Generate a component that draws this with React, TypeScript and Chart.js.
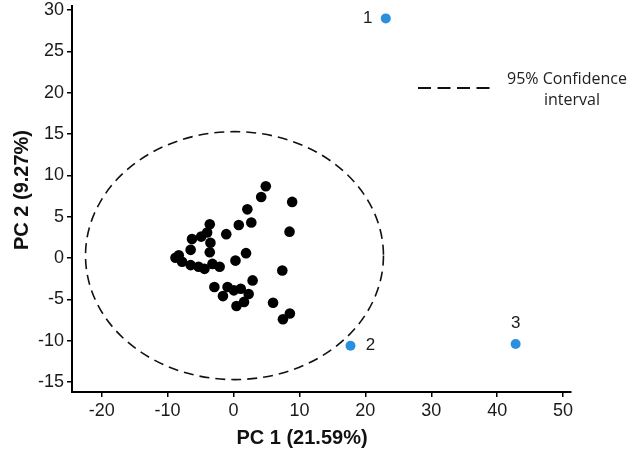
import React, { useEffect, useRef } from "react";
import { Chart, registerables } from "chart.js";

Chart.register(...registerables);

// ---- data ----
const CLUSTER_X = [4.9, 4.2, 8.9, 2.1, 0.8, 2.7, 8.5, -3.6, -4.0, -4.9, -6.3, -3.5, -6.5, -3.6, -1.1, 1.9, 0.3, -8.3, -8.8, -7.8, -6.5, -5.3, -4.4, -3.2, -2.1, 7.4, 2.9, -2.9, -0.9, -1.6, 0.05, 1.1, 2.3, 1.6, 0.45, 6.0, 8.55, 7.5];
const CLUSTER_Y = [8.7, 7.4, 6.8, 5.9, 4.0, 4.3, 3.2, 4.1, 3.1, 2.6, 2.3, 1.85, 1.0, 0.7, 2.9, 0.6, -0.3, 0.35, 0.05, -0.45, -0.85, -1.05, -1.3, -0.7, -1.05, -1.5, -2.7, -3.5, -3.5, -4.6, -3.9, -3.7, -4.35, -5.3, -5.8, -5.4, -6.7, -7.4];

const OUTLIER_LABELS = ["1", "2", "3"];
const OUTLIER_X = [23.1, 17.75, 42.8];
const OUTLIER_Y = [29.0, -10.6, -10.4];

// 95% confidence ellipse: center and semi-axes (data units)
const ELLIPSE_CENTER = [0.15, 0.3];
const ELLIPSE_RADII = [22.6, 15.0];

const X_TICKS = [-20, -10, 0, 10, 20, 30, 40, 50];
const Y_TICKS = [-15, -10, -5, 0, 5, 10, 15, 20, 25, 30];

const X_TITLE = "PC 1 (21.59%)";
const Y_TITLE = "PC 2 (9.27%)";
const LEGEND_LINES = ["95% Confidence", "interval"];

// label offsets (px) for outlier labels
const LABEL_OFFSETS = [
  [-18, 0],
  [20, 0],
  [0, -21],
];

const overlayPlugin = {
  id: "overlay",
  afterDatasetsDraw(chart: any) {
    const { ctx, scales, chartArea } = chart;
    const xs = scales.x;
    const ys = scales.y;
    ctx.save();
    // ellipse
    const cx = xs.getPixelForValue(ELLIPSE_CENTER[0]);
    const cy = ys.getPixelForValue(ELLIPSE_CENTER[1]);
    const rx = Math.abs(xs.getPixelForValue(ELLIPSE_CENTER[0] + ELLIPSE_RADII[0]) - cx);
    const ry = Math.abs(ys.getPixelForValue(ELLIPSE_CENTER[1] + ELLIPSE_RADII[1]) - cy);
    ctx.beginPath();
    ctx.ellipse(cx, cy, rx, ry, 0, 0, Math.PI * 2);
    ctx.setLineDash([10, 6]);
    ctx.lineWidth = 1.6;
    ctx.strokeStyle = "#111";
    ctx.stroke();

    // outlier labels
    ctx.setLineDash([]);
    ctx.fillStyle = "#1a1a1a";
    ctx.font = "17px 'Liberation Sans', Arial, sans-serif";
    ctx.textAlign = "center";
    ctx.textBaseline = "middle";
    OUTLIER_LABELS.forEach((t, i) => {
      const px = xs.getPixelForValue(OUTLIER_X[i]) + LABEL_OFFSETS[i][0];
      const py = ys.getPixelForValue(OUTLIER_Y[i]) + LABEL_OFFSETS[i][1];
      ctx.fillText(t, px, py);
    });

    // legend
    ctx.beginPath();
    ctx.setLineDash([13, 6.5]);
    ctx.lineWidth = 2;
    ctx.strokeStyle = "#111";
    ctx.moveTo(418, 88);
    ctx.lineTo(491, 88);
    ctx.stroke();
    ctx.setLineDash([]);
    ctx.font = "16px 'Open Sans', sans-serif";
    ctx.fillStyle = "#222";
    ctx.fillText(LEGEND_LINES[0], 567, 79);
    ctx.fillText(LEGEND_LINES[1], 572, 100);

    // axis titles
    ctx.font = "bold 20px 'Liberation Sans', Arial, sans-serif";
    ctx.fillStyle = "#111";
    ctx.fillText(X_TITLE, chartArea.left + 230, 438);
    ctx.save();
    ctx.translate(22, chartArea.top + 184);
    ctx.rotate(-Math.PI / 2);
    ctx.fillText(Y_TITLE, 0, 0);
    ctx.restore();
    ctx.restore();
  },
};

export default function App() {
  const ref = useRef<HTMLCanvasElement | null>(null);
  useEffect(() => {
    if (!ref.current) return;
    const tickFont = { family: "'Liberation Sans', Arial, sans-serif", size: 18 };
    const chart = new Chart(ref.current, {
      type: "scatter",
      data: {
        datasets: [
          {
            data: CLUSTER_X.map((x, i) => ({ x, y: CLUSTER_Y[i] })),
            backgroundColor: "#000",
            borderWidth: 0,
            pointRadius: 5.3,
            pointHoverRadius: 5.3,
          },
          {
            data: OUTLIER_X.map((x, i) => ({ x, y: OUTLIER_Y[i] })),
            backgroundColor: "#2a8fdc",
            borderWidth: 0,
            pointRadius: 5,
            pointHoverRadius: 5,
          },
        ],
      },
      options: {
        animation: false,
        responsive: false,
        devicePixelRatio: 1,
        events: [],
        layout: { padding: { left: 0, top: 6, right: 59, bottom: 0 } },
        plugins: { legend: { display: false }, tooltip: { enabled: false } },
        scales: {
          x: {
            type: "linear",
            min: -24.5,
            max: 51.2,
            afterBuildTicks: (s: any) => {
              s.ticks = X_TICKS.map((v) => ({ value: v }));
            },
            afterFit: (s: any) => {
              s.height = 58;
              s.paddingLeft = 0;
              s.paddingRight = 0;
            },
            grid: { drawOnChartArea: false, drawTicks: true, tickLength: 5, color: "#000", lineWidth: 1.5 },
            border: { display: true, color: "#000", width: 2 },
            ticks: { font: tickFont, color: "#1a1a1a", padding: 3, maxRotation: 0, autoSkip: false },
          },
          y: {
            type: "linear",
            min: -16.2,
            max: 30.5,
            afterBuildTicks: (s: any) => {
              s.ticks = Y_TICKS.map((v) => ({ value: v }));
            },
            afterFit: (s: any) => {
              s.width = 72;
              s.paddingTop = 0;
              s.paddingBottom = 0;
            },
            grid: { drawOnChartArea: false, drawTicks: true, tickLength: 5, color: "#000", lineWidth: 1.5 },
            border: { display: true, color: "#000", width: 2 },
            ticks: { font: tickFont, color: "#1a1a1a", padding: 3, autoSkip: false },
          },
        },
      },
      plugins: [overlayPlugin],
    } as any);
    return () => chart.destroy();
  }, []);
  return (
    <div style={{ position: "absolute", left: 0, top: 0, width: 630, height: 450, background: "#fff" }}>
      <canvas ref={ref} width={630} height={450} style={{ width: 630, height: 450, display: "block" }} />
    </div>
  );
}
